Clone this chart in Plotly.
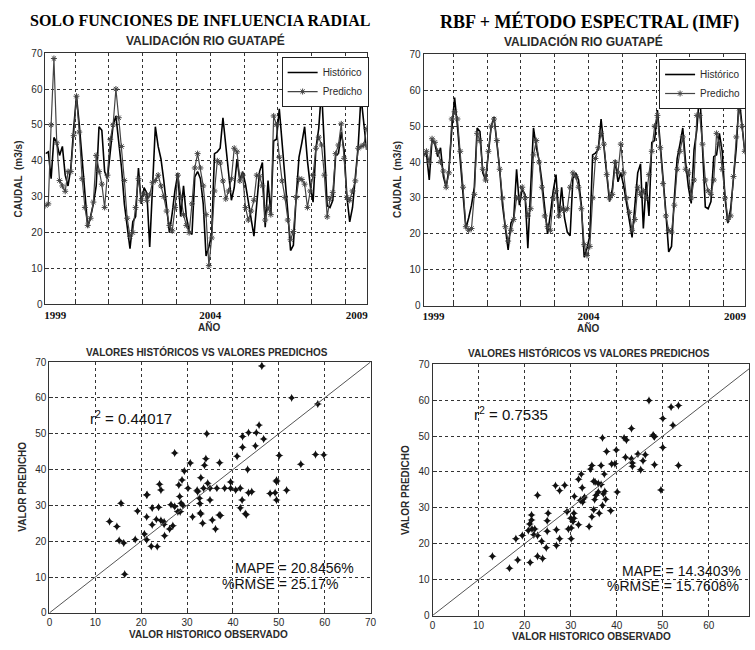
import plotly.graph_objects as go

W, H = 755, 650

# ---------------- DATA ----------------
# Monthly index (validation period starting early 1999)
n_months = 115
month_idx = list(range(n_months))

# Historical flow (m3/s) - shared by both time-series panels
historico = [42, 42.5, 35, 46.5, 45, 41.5, 44, 36, 33, 38,
             49, 58, 50, 41, 30, 21.5, 24.5, 28, 33, 49.5,
             48.5, 37, 35, 42, 50, 52.5, 46, 38, 28, 21.5,
             15.5, 23, 24.5, 38, 28, 32.5, 31, 16, 33, 49.5,
             44, 40.5, 34.5, 28, 20, 25.5, 32, 36.5, 24.5, 33,
             24.5, 20.5, 19.5, 35.5, 37, 35, 28, 13.5, 16, 19.5,
             42, 42.5, 43.5, 52, 44.5, 36, 29, 32.5, 40.5, 34.5,
             37, 33.5, 29, 24, 19, 28, 37, 39.5, 21.5, 34.5,
             25, 45.5, 46, 54.5, 45, 37, 26, 15, 16.5, 30,
             41, 45, 49.5, 40, 33, 28.5, 43.5, 49, 60, 44,
             27.5, 27, 29, 41.5, 42, 48, 43, 30, 23, 27,
             36, 44, 58, 50, 43]

# Predicted - RBF only
predicho_rbf = [27.5, 28, 50, 68.5, 45, 34.5, 33, 31.5, 37, 37,
                47, 58, 48, 35, 27, 22, 24, 28.5, 41.5, 37,
                33.5, 27, 36, 46, 50, 60, 52, 44, 34.5, 24,
                19, 20, 27, 35, 29, 31, 29, 30.5, 34, 34.5,
                36, 33, 30, 26, 22, 20.5, 27, 36, 30, 25,
                22, 20, 28, 38, 42, 38, 33, 25, 10.8, 18.5,
                31.6, 40, 39.4, 34.4, 29.4, 31.6, 35, 43.5, 42.5, 34.4,
                36, 27, 23.5, 26, 29, 36, 35.7, 33, 23.5, 27,
                25, 52.5, 50, 41, 34.4, 29.8, 23.5, 18, 20.3, 29.8,
                35, 34.8, 33.5, 27, 31.6, 36, 43.5, 46.6, 44.4, 36,
                24.4, 29.4, 31.2, 42, 44.4, 50.3, 40.7, 29.8, 29, 31.6,
                34.4, 43.5, 44, 44.4, 49]

# Predicted - RBF + spectral method (IMF)
predicho_imf = [42, 43, 40, 46.5, 45.5, 43, 40, 37.5, 33, 37,
                52, 54, 52, 43, 33, 22, 21, 21.5, 31, 48,
                46, 38, 35, 43, 50, 52, 46, 38, 30, 22,
                18, 21, 24, 30, 30, 33, 30, 25, 27, 42,
                46, 40, 33, 25, 22, 21, 30, 32, 25, 27,
                26.5, 27, 33, 37, 36, 33, 27, 17, 14, 16.5,
                30, 41, 44, 48, 45, 36.5, 30, 31, 40, 37,
                45, 37, 30, 26, 21, 24, 33, 31, 32, 30,
                36.5, 43, 50, 53, 44, 34, 25, 21, 20.5, 28,
                38, 43, 47, 38, 37, 30, 35, 53, 53, 45,
                35, 32, 31, 35, 48, 45, 38, 30, 24, 25,
                36, 47, 55, 50, 43]

# Scatter: historical observed vs predicted (RBF only)
disp_rbf_obs = [46.3, 52.8, 58.5, 34.3, 43.4, 45.1, 42.1, 45.7, 46.7, 44.9,
                42.1, 40.9, 50.1, 54.8, 58.0, 59.8, 43.2, 27.3, 34.1, 33.8,
                37.1, 30.7, 29.4, 33.0, 28.9, 28.2, 24.0, 21.3, 32.2, 33.6,
                35.0, 36.5, 38.2, 39.5, 40.6, 41.6, 43.4, 39.5, 34.5, 49.5,
                49.5, 49.2, 48.1, 51.7, 24.3, 15.6, 13.1, 14.7, 15.2, 16.2,
                16.4, 18.7, 19.2, 21.2, 21.2, 20.7, 21.2, 22.4, 22.4, 22.2,
                23.5, 23.3, 23.8, 24.3, 25.0, 25.1, 25.0, 26.2, 26.5, 26.9,
                28.0, 27.3, 28.4, 28.7, 29.1, 28.5, 31.2, 32.3, 32.7, 32.8,
                32.9, 33.0, 33.4, 35.0, 35.5, 36.2, 37.0, 37.3, 42.0, 41.6,
                42.7, 42.9, 44.1, 49.5, 30.2]
disp_rbf_pred = [68.9, 60.0, 58.3, 50.0, 50.3, 50.3, 49.2, 52.4, 48.5, 46.6,
                 46.2, 43.7, 43.9, 41.5, 44.2, 44.1, 40.0, 44.6, 43.0, 41.2,
                 41.9, 41.8, 39.6, 37.7, 37.1, 35.7, 35.9, 33.0, 34.2, 34.8,
                 34.8, 34.8, 34.8, 34.8, 34.3, 34.8, 33.5, 36.5, 36.2, 36.6,
                 37.0, 33.5, 33.3, 34.2, 34.3, 30.6, 25.5, 24.1, 20.2, 19.5,
                 10.8, 20.5, 28.4, 32.9, 26.8, 22.0, 20.4, 29.3, 24.6, 18.6,
                 18.5, 26.1, 29.5, 25.8, 25.4, 21.5, 24.7, 23.4, 30.2, 24.3,
                 28.2, 29.7, 32.5, 30.6, 30.0, 28.2, 26.8, 33.8, 32.0, 30.5,
                 27.9, 27.6, 25.0, 31.5, 25.9, 23.4, 27.3, 27.2, 31.5, 29.3,
                 27.7, 27.4, 33.8, 31.5, 34.8]

# Scatter: historical observed vs predicted (RBF + IMF)
disp_imf_obs = [47.0, 51.8, 53.4, 50.0, 52.2, 43.2, 47.9, 48.2, 48.0, 50.0,
                36.9, 41.6, 42.1, 37.8, 39.9, 38.9, 39.6, 41.9, 43.2, 43.4,
                44.6, 45.7, 46.2, 45.2, 48.2, 53.4, 43.4, 34.6, 36.6, 37.3,
                32.3, 34.3, 31.7, 35.0, 35.3, 36.0, 36.6, 32.5, 26.7, 28.7,
                13.0, 16.7, 18.5, 21.2, 22.8, 23.9, 18.1, 19.5, 20.8, 21.1,
                21.5, 21.5, 21.6, 22.2, 22.0, 22.8, 22.8, 23.7, 24.7, 24.9,
                25.1, 24.9, 26.9, 26.9, 27.6, 27.6, 29.2, 29.5, 30.0, 30.1,
                30.1, 30.5, 30.7, 30.7, 30.8, 31.7, 32.1, 32.6, 32.8, 33.0,
                34.0, 34.6, 35.0, 35.2, 35.5, 36.2, 36.9, 37.1, 37.6, 37.4,
                38.7, 40.1, 49.6, 36.0]
disp_imf_pred = [59.9, 58.1, 58.5, 54.9, 53.0, 52.1, 50.3, 49.8, 50.0, 46.8,
                 49.5, 49.5, 48.9, 45.7, 46.1, 42.2, 42.3, 44.1, 43.7, 42.5,
                 45.0, 43.1, 44.8, 40.6, 42.0, 41.8, 41.6, 41.8, 41.8, 39.4,
                 39.4, 40.8, 38.0, 37.4, 37.2, 36.8, 36.5, 35.6, 36.2, 36.3,
                 16.5, 13.2, 15.5, 14.8, 16.5, 15.9, 21.4, 22.3, 23.7, 25.5,
                 26.6, 28.0, 24.1, 24.1, 22.5, 22.3, 33.5, 20.7, 18.9, 26.4,
                 28.5, 23.5, 19.5, 23.9, 21.4, 34.8, 28.9, 24.1, 27.1, 21.4,
                 24.4, 26.2, 28.5, 27.1, 33.2, 25.3, 32.1, 31.6, 32.5, 33.0,
                 24.8, 27.5, 29.5, 32.3, 33.5, 28.5, 30.7, 33.9, 32.4, 34.6,
                 29.2, 34.4, 35.0, 34.4]

ref_line = [0, 70]

year_grid = [10.5, 22.5, 34.5, 46.5, 58.5, 70.5, 82.5, 94.5, 106.5]
year_label_pos = [3.5, 58.5, 110.5]
year_labels = ["1999", "2004", "2009"]

stats_rbf = ["r<sup>2</sup> = 0.44017", "MAPE = 20.8456%", "%RMSE = 25.17%"]
stats_imf = ["r<sup>2</sup> = 0.7535", "MAPE = 14.3403%", "%RMSE = 15.7608%"]

# ---------------- FIGURE ----------------
def fx(px):
    return px / W

def fy(py):
    return 1 - py / H

SANS = "Liberation Sans, Arial, sans-serif"
SERIF = "Liberation Serif, Times New Roman, serif"
TXT = "#2a2a2a"

fig = go.Figure()

# time series panels
for pred, xa, ya, leg in [(predicho_rbf, "x", "y", "legend"),
                          (predicho_imf, "x2", "y2", "legend2")]:
    fig.add_trace(go.Scatter(x=month_idx, y=historico, mode="lines", name="Histórico",
                             line=dict(color="#000000", width=1.6),
                             xaxis=xa, yaxis=ya, legend=leg))
    fig.add_trace(go.Scatter(x=month_idx, y=pred, mode="lines+markers", name="Predicho",
                             line=dict(color="#444444", width=1.2),
                             marker=dict(symbol="asterisk-open", size=5,
                                         line=dict(color="#444444", width=1)),
                             xaxis=xa, yaxis=ya, legend=leg))

# scatter panels
for obs, pred, xa, ya in [(disp_rbf_obs, disp_rbf_pred, "x3", "y3"),
                          (disp_imf_obs, disp_imf_pred, "x4", "y4")]:
    fig.add_trace(go.Scatter(x=obs, y=pred, mode="markers", showlegend=False,
                             marker=dict(symbol="star-diamond", size=6, color="#111111"),
                             xaxis=xa, yaxis=ya))
    fig.add_trace(go.Scatter(x=ref_line, y=ref_line, mode="lines", showlegend=False,
                             line=dict(color="#555555", width=1),
                             xaxis=xa, yaxis=ya))

axis_common = dict(showline=True, linecolor="#333333", linewidth=1, mirror=True,
                   zeroline=False, tickfont=dict(family=SANS, size=10, color=TXT),
                   gridcolor="#333333", griddash="dot", gridwidth=1,
                   ticks="inside", ticklen=4, tickcolor="#333333")

def ts_xaxis(domain, anchor):
    d = dict(axis_common)
    d.update(domain=domain, anchor=anchor, range=[0, n_months - 1],
             tickmode="array", tickvals=year_label_pos,
             ticktext=["<b>%s</b>" % t for t in year_labels],
             tickfont=dict(family=SERIF, size=11, color="#111111"),
             ticks="", showgrid=False,
             minor=dict(tickmode="array", tickvals=year_grid, showgrid=True,
                        gridcolor="#333333", griddash="dot", gridwidth=1,
                        ticks="inside", ticklen=4, tickcolor="#333333"))
    return d

def y_axis(domain, anchor):
    d = dict(axis_common)
    d.update(domain=domain, anchor=anchor, range=[0, 70], tickmode="linear",
             tick0=0, dtick=10, showgrid=True)
    return d

def sc_xaxis(domain, anchor, rmax):
    d = dict(axis_common)
    d.update(domain=domain, anchor=anchor, range=[0, rmax], tickmode="linear",
             tick0=0, dtick=10, showgrid=True)
    return d

legend_style = dict(bgcolor="white", bordercolor="#222222", borderwidth=1,
                    font=dict(family=SANS, size=10, color=TXT), itemwidth=30,
                    tracegroupgap=0, yanchor="top", xanchor="left")

fig.update_layout(
    width=W, height=H, autosize=False,
    margin=dict(l=0, r=0, t=0, b=0),
    paper_bgcolor="white", plot_bgcolor="white",
    font=dict(family=SANS, color=TXT),
    xaxis=ts_xaxis([fx(43), fx(368)], "y"),
    yaxis=y_axis([fy(304), fy(48)], "x"),
    xaxis2=ts_xaxis([fx(425.7), fx(750.7)], "y2"),
    yaxis2=y_axis([fy(305.3), fy(49.3)], "x2"),
    xaxis3=sc_xaxis([fx(47), fx(372)], "y3", 70),
    yaxis3=y_axis([fy(618.3), fy(362.7)], "x3"),
    xaxis4=sc_xaxis([fx(434.7), 1.0], "y4", 70 * (W - 434.7) / 326.3),
    yaxis4=y_axis([fy(621), fy(365)], "x4"),
    legend=dict(x=fx(282), y=fy(52), **legend_style),
    legend2=dict(x=fx(664), y=fy(54), **legend_style),
)

ann = []
def text(px, py, s, size, family=SANS, bold=True, angle=0, color=TXT):
    ann.append(dict(x=fx(px), y=fy(py), xref="paper", yref="paper",
                    text=("<b>%s</b>" % s) if bold else s, showarrow=False,
                    xanchor="center", yanchor="middle", textangle=angle,
                    font=dict(family=family, size=size, color=color)))

# headers
text(199.5, 15, "SOLO FUNCIONES DE INFLUENCIA RADIAL", 16, SERIF, color="#000000")
text(594, 16, "RBF + MÉTODO ESPECTRAL (IMF)", 18, SERIF, color="#000000")
text(204.5, 35, "VALIDACIÓN RIO GUATAPÉ", 12)
text(587.5, 36, "VALIDACIÓN RIO GUATAPÉ", 12)
# time-series axis titles
text(16, 176, "CAUDAL  (m3/s)", 10, angle=-90)
text(399, 177, "CAUDAL  (m3/s)", 10, angle=-90)
text(208, 327, "AÑO", 10)
text(592, 328, "AÑO", 10)
# scatter titles
text(206.5, 352.7, "VALORES HISTÓRICOS VS VALORES PREDICHOS", 10)
text(593.5, 353.3, "VALORES HISTÓRICOS VS VALORES PREDICHOS", 10)
text(20, 490, "VALOR PREDICHO", 10, angle=-90)
text(408, 493, "VALOR PREDICHO", 10, angle=-90)
text(207.5, 640, "VALOR HISTORICO OBSERVADO", 10)
text(595.5, 642.3, "VALOR HISTORICO OBSERVADO", 10)

# stats in data coordinates
for stats, xr, yr, pos in [(stats_rbf, "x3", "y3", [(8.5, 54.6), (53.4, 12.6), (50.2, 8.1)]),
                           (stats_imf, "x4", "y4", [(8.5, 56.3), (54.0, 12.5), (52.2, 8.1)])]:
    for i, s in enumerate(stats):
        ann.append(dict(x=pos[i][0], y=pos[i][1], xref=xr, yref=yr, text=s,
                        showarrow=False, xanchor="left" if i == 0 else "center",
                        yanchor="middle",
                        font=dict(family=SANS, size=15 if i == 0 else 14, color="#111111")))

fig.update_layout(annotations=ann)
fig.write_html("out.html",
               config={"displayModeBar": False},
               post_script="document.body.style.margin='0';"
                           "document.body.style.overflow='hidden';")
